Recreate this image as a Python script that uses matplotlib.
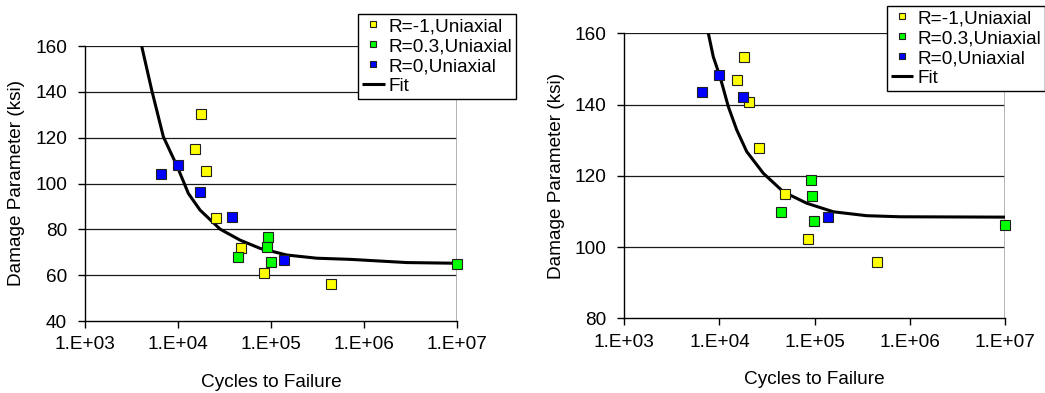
import matplotlib
matplotlib.use("Agg")
import matplotlib.pyplot as plt
from matplotlib.ticker import FixedLocator, FuncFormatter, NullLocator

plt.rcParams['font.family'] = ['Liberation Sans', 'DejaVu Sans']

# ---- Left panel data ----
left_rm1_n = [17870, 15400, 20200, 25700, 47700, 85100, 444000]
left_rm1_d = [130.2, 114.9, 105.5, 84.8, 71.7, 61.1, 56.3]
left_r03_n = [92500, 91700, 44400, 99500, 1.0e7]
left_r03_d = [76.5, 72.1, 68.1, 65.6, 64.7]
left_r0_n = [6510, 9930, 17400, 37800, 137000]
left_r0_d = [104.0, 107.9, 96.1, 85.2, 66.5]
left_fit_n = [4070, 5220, 6970, 9860, 12940, 17300, 28400, 46600, 76600,
              148000, 312000, 713000, 2900000, 1.0e7]
left_fit_d = [160.0, 140.8, 120.4, 107.3, 95.7, 88.4, 80.1, 75.3, 71.7,
              68.8, 67.4, 66.9, 65.5, 65.2]

# ---- Right panel data ----
right_rm1_n = [18100, 15400, 20200, 26000, 48400, 85700, 449000]
right_rm1_d = [153.4, 147.0, 140.6, 127.7, 114.9, 102.2, 95.7]
right_r03_n = [92300, 92900, 44700, 99100, 1.0e7]
right_r03_d = [118.7, 114.2, 109.8, 107.2, 106.3]
right_r0_n = [6550, 9960, 17700, 138000]
right_r0_d = [143.6, 148.2, 142.1, 108.5]
right_fit_n = [7640, 8610, 10140, 12390, 15170, 19320, 28900, 46900, 82600,
               157000, 352000, 789000, 1.0e7]
right_fit_d = [160.0, 153.4, 147.8, 139.4, 132.9, 126.8, 120.7, 115.5, 112.3,
               109.9, 108.8, 108.5, 108.4]

x_ticks = [1e3, 1e4, 1e5, 1e6, 1e7]
x_tick_labels = ["1.E+03", "1.E+04", "1.E+05", "1.E+06", "1.E+07"]
left_y_ticks = [40, 60, 80, 100, 120, 140, 160]
right_y_ticks = [80, 100, 120, 140, 160]

series_labels = ["R=-1,Uniaxial", "R=0.3,Uniaxial", "R=0,Uniaxial", "Fit"]
series_colors = ["#FFFF00", "#00FF00", "#0000FF"]

FS = 13.7
W, H = 1045, 393
fig = plt.figure(figsize=(W / 100, H / 100), dpi=100)


def px_axes(l, t, r, b):
    return fig.add_axes([l / W, 1 - b / H, (r - l) / W, (b - t) / H])


def draw_panel(ax, series, fit_n, fit_d, yticks, legend_box):
    ylo, yhi = yticks[0], yticks[-1]
    ax.set_xscale('log')
    ax.set_xlim(1e3, 1e7)
    ax.set_ylim(ylo, yhi)
    for y in yticks[1:]:
        ax.axhline(y, color='#1a1a1a', lw=0.9, zorder=1)
    ax.axvline(1e7, color='#a8a8a8', lw=1.2, zorder=1)
    fit_handle, = ax.plot(fit_n, fit_d, color='black', lw=2.2, zorder=3,
                          label=series_labels[3], solid_capstyle='butt')
    handles = []
    for (n, d), c, lab in zip(series, series_colors, series_labels[:3]):
        h, = ax.plot(n, d, ls='none', marker='s', ms=6.6, mfc=c,
                     mec='#202020', mew=0.8, zorder=4, label=lab,
                     clip_on=False)
        handles.append(h)
    handles.append(fit_handle)

    ax.xaxis.set_major_locator(FixedLocator(x_ticks))
    ax.xaxis.set_major_formatter(FuncFormatter(
        lambda v, p: x_tick_labels[x_ticks.index(v)] if v in x_ticks else ""))
    ax.xaxis.set_minor_locator(NullLocator())
    ax.set_yticks(yticks)
    ax.tick_params(axis='both', direction='out', length=5, width=1,
                   color='black', labelsize=FS, labelcolor='black')
    ax.tick_params(axis='x', pad=6)
    ax.tick_params(axis='y', pad=8)
    for s in ('top', 'right'):
        ax.spines[s].set_visible(False)
    for s in ('left', 'bottom'):
        ax.spines[s].set_color('black')
        ax.spines[s].set_linewidth(1.0)
        ax.spines[s].set_zorder(5)
    ax.set_xlabel("Cycles to Failure", fontsize=FS, labelpad=15)
    ax.set_ylabel("Damage Parameter (ksi)", fontsize=FS, labelpad=7)

    l, t = legend_box
    leg = fig.legend(handles, series_labels, loc='upper left',
                     bbox_to_anchor=(l / W, 1 - t / H),
                     fontsize=FS, frameon=True, fancybox=False,
                     edgecolor='black', framealpha=1, borderpad=0.2,
                     labelspacing=0.14, handlelength=1.2, handletextpad=0.2,
                     borderaxespad=0, markerscale=0.75)
    leg.get_frame().set_linewidth(1.0)
    return leg


ax1 = px_axes(85, 46, 456.7, 321)
draw_panel(ax1, [(left_rm1_n, left_rm1_d), (left_r03_n, left_r03_d),
                 (left_r0_n, left_r0_d)],
           left_fit_n, left_fit_d, left_y_ticks, (358, 14))

ax2 = px_axes(624.3, 33.3, 1005, 318.3)
draw_panel(ax2, [(right_rm1_n, right_rm1_d), (right_r03_n, right_r03_d),
                 (right_r0_n, right_r0_d)],
           right_fit_n, right_fit_d, right_y_ticks, (886.7, 6))

fig.savefig("out.png", dpi=100)
